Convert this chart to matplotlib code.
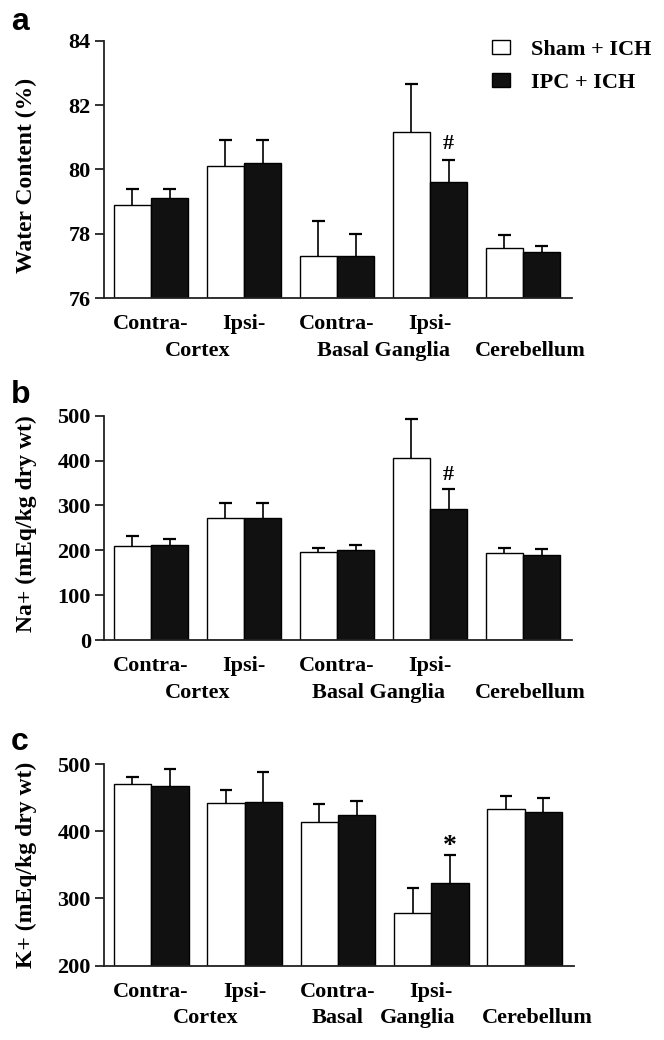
import numpy as np
import matplotlib
matplotlib.use("Agg")
import matplotlib.pyplot as plt
from matplotlib.transforms import blended_transform_factory, offset_copy

plt.rcParams['font.family'] = ['Liberation Serif', 'DejaVu Serif']
plt.rcParams['font.weight'] = 'bold'

groups = ["Contra-Cortex", "Ipsi-Cortex", "Contra-BG", "Ipsi-BG", "Cerebellum"]
series_names = ["Sham + ICH", "IPC + ICH"]

# Panel a: water content (%)
water_sham = [78.9, 80.1, 77.3, 81.15, 77.55]
water_sham_err = [0.5, 0.8, 1.1, 1.5, 0.4]
water_ipc = [79.1, 80.2, 77.3, 79.6, 77.42]
water_ipc_err = [0.3, 0.7, 0.7, 0.7, 0.2]

# Panel b: Na+ (mEq/kg dry wt)
na_sham = [209, 272, 196, 405, 194]
na_sham_err = [23, 34, 9, 87, 11]
na_ipc = [211, 272, 201, 293, 190]
na_ipc_err = [15, 34, 11, 44, 13]

# Panel c: K+ (mEq/kg dry wt)
k_sham = [470, 442, 414, 278, 433]
k_sham_err = [10, 19, 26, 38, 19]
k_ipc = [468, 443, 424, 323, 428]
k_ipc_err = [24, 45, 21, 41, 22]

W, H = 664, 1040
fig = plt.figure(figsize=(W / 100, H / 100), dpi=100)

def px_axes(left, right, top, bottom):
    return fig.add_axes([left / W, 1 - bottom / H, (right - left) / W, (bottom - top) / H])

BLACK = '#111111'
x = np.arange(len(groups))
bw = 0.4
cap_half = 0.066

def draw_panel(ax, sham, sham_err, ipc, ipc_err, ylim, yticks):
    for offs, vals, errs, fc, name in [(-bw / 2, sham, sham_err, 'white', series_names[0]),
                                       (bw / 2, ipc, ipc_err, BLACK, series_names[1])]:
        vals = np.array(vals, dtype=float)
        errs = np.array(errs, dtype=float)
        xs = x + offs
        ax.bar(xs, vals - ylim[0], bw, bottom=ylim[0], color=fc,
               edgecolor='black', linewidth=1.0, zorder=2, label=name)
        ax.vlines(xs, vals, vals + errs, colors='black', linewidth=1.2, zorder=1)
        ax.hlines(vals + errs, xs - cap_half, xs + cap_half, colors='black',
                  linewidth=1.6, zorder=1)
    ax.set_xlim(-0.505, 4.527)
    ax.set_ylim(*ylim)
    ax.set_yticks(yticks)
    ax.set_yticklabels([str(t) for t in yticks])
    for s in ['top', 'right']:
        ax.spines[s].set_visible(False)
    for s in ['left', 'bottom']:
        ax.spines[s].set_linewidth(1.3)
        ax.spines[s].set_color('#222222')
    ax.set_xticks([])
    ax.tick_params(axis='y', direction='out', length=6.5, width=1.3, color='#222222',
                   labelsize=16, pad=3)
    for lab in ax.get_yticklabels():
        lab.set_fontweight('bold')

def xlabels(ax, row1, row2):
    tr = blended_transform_factory(ax.transData, ax.transAxes)
    t1 = offset_copy(tr, fig=fig, x=0, y=-19, units='points')
    t2 = offset_copy(tr, fig=fig, x=0, y=-38, units='points')
    for xp, s in row1:
        ax.text(xp, 0, s, transform=t1, ha='center', va='center', fontsize=16, fontweight='bold')
    for xp, s in row2:
        ax.text(xp, 0, s, transform=t2, ha='center', va='center', fontsize=16, fontweight='bold')

row1 = [(0, 'Contra-'), (1, 'Ipsi-'), (2, 'Contra-'), (3, 'Ipsi-')]

# Panel a
axa = px_axes(104, 572, 40.7, 298)
draw_panel(axa, water_sham, water_sham_err, water_ipc, water_ipc_err, (76, 84), [76, 78, 80, 82, 84])
xlabels(axa, row1, [(0.5, 'Cortex'), (2.5, 'Basal Ganglia'), (4.08, 'Cerebellum')])
axa.text(3.2, 80.78, '#', ha='center', va='center', fontsize=16, fontweight='bold')
handles, labels = axa.get_legend_handles_labels()
fig.legend(handles, labels, loc='upper left', bbox_to_anchor=(492 / W, 1 - 40 / H),
           frameon=False, handlelength=0.81, handleheight=0.59,
           handletextpad=0.95, labelspacing=0.58, borderpad=0, borderaxespad=0,
           prop={'weight': 'bold', 'size': 16})

# Panel b
axb = px_axes(104, 572, 415.7, 640)
draw_panel(axb, na_sham, na_sham_err, na_ipc, na_ipc_err, (0, 500), [0, 100, 200, 300, 400, 500])
xlabels(axb, row1, [(0.5, 'Cortex'), (2.45, 'Basal Ganglia'), (4.08, 'Cerebellum')])
axb.text(3.2, 367, '#', ha='center', va='center', fontsize=16, fontweight='bold')

# Panel c
axc = px_axes(104, 574, 764, 965.7)
draw_panel(axc, k_sham, k_sham_err, k_ipc, k_ipc_err, (200, 500), [200, 300, 400, 500])
xlabels(axc, row1, [(0.58, 'Cortex'), (2.0, 'Basal'), (2.85, 'Ganglia'), (4.13, 'Cerebellum')])
axc.text(3.2, 378, '*', ha='center', va='center', fontsize=20, fontweight='bold')

# y labels
fig.text(26 / W, 1 - 175 / H, 'Water Content (%)', rotation=90, ha='center', va='center',
         fontsize=17, fontweight='bold')
fig.text(26 / W, 1 - 524 / H, 'Na+ (mEq/kg dry wt)', rotation=90, ha='center', va='center',
         fontsize=17, fontweight='bold')
fig.text(26 / W, 1 - 865 / H, 'K+ (mEq/kg dry wt)', rotation=90, ha='center', va='center',
         fontsize=17, fontweight='bold')

# panel letters
for lbl, yb in [('a', 30), ('b', 403), ('c', 750)]:
    fig.text(11 / W, 1 - yb / H, lbl, ha='left', va='baseline', fontsize=23,
             fontweight='bold', family=['Liberation Sans', 'DejaVu Sans'])

fig.savefig('out.png', dpi=100)
